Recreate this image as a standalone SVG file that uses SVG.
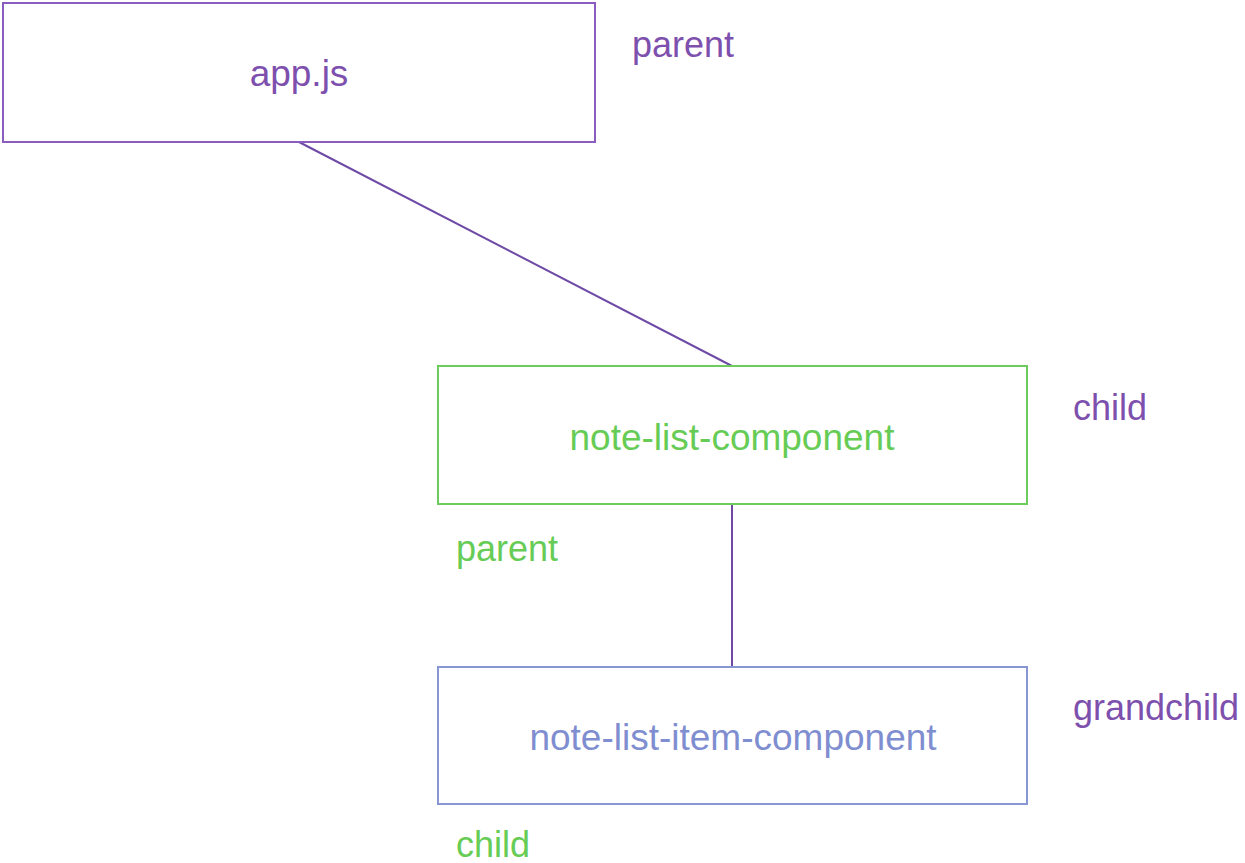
<svg xmlns="http://www.w3.org/2000/svg" width="1245" height="863" viewBox="0 0 1245 863">
<style>
text { font-family: "Liberation Sans", Arial, sans-serif; font-size: 36px; }
.box { fill: #ffffff; stroke-width: 2; }
.purple { fill: #7e50ad; }
.green { fill: #66cc55; }
.blue { fill: #7f8ed0; }
.conn { stroke: #6e4aa6; stroke-width: 2; fill: none; }
</style>
<rect width="1245" height="863" fill="#ffffff"/>
<g id="connectors">
<line class="conn" x1="299" y1="142" x2="732" y2="366"/>
<line class="conn" x1="732" y1="504" x2="732" y2="667"/>
</g>
<g id="app">
<rect class="box" x="3" y="3" width="592" height="139" stroke="#8a5cc0"/>
<text class="purple" x="299" y="86" text-anchor="middle" style="font-size:37px">app.js</text>
</g>
<g id="note-list-component">
<rect class="box" x="438" y="366" width="589" height="138" stroke="#6ccc5c"/>
<text class="green" x="732" y="450" text-anchor="middle" style="font-size:37px">note-list-component</text>
</g>
<g id="note-list-item-component">
<rect class="box" x="438" y="667" width="589" height="137" stroke="#8896d4"/>
<text class="blue" x="733" y="750" text-anchor="middle" style="font-size:37px">note-list-item-component</text>
</g>
<g id="labels">
<text class="purple" x="632" y="57">parent</text>
<text class="purple" x="1073" y="420">child</text>
<text class="green" x="456" y="561">parent</text>
<text class="purple" x="1073" y="720">grandchild</text>
<text class="green" x="456" y="857">child</text>
</g>
</svg>
